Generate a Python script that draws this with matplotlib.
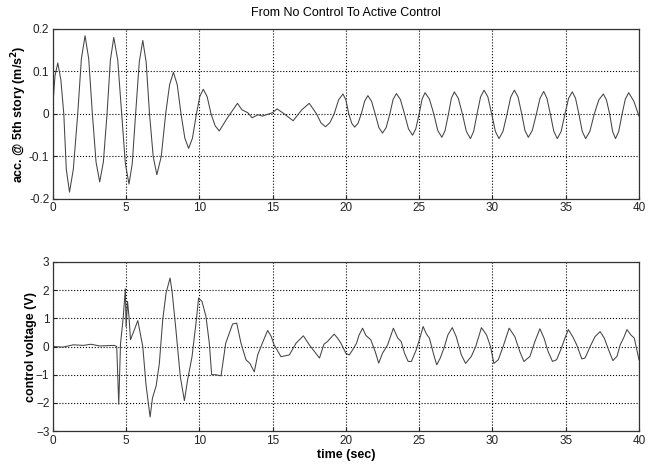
import matplotlib
matplotlib.use("Agg")
import matplotlib.pyplot as plt

plt.rcParams['font.family'] = ['Liberation Sans', 'DejaVu Sans']

# top: acceleration at 5th story
acc_t = [0.0, 0.15, 0.34, 0.55, 0.75, 0.92, 1.14, 1.4, 1.7, 1.95, 2.2, 2.45,
         2.7, 2.95, 3.2, 3.45, 3.7, 3.93, 4.16, 4.43, 4.7, 4.95, 5.2, 5.42,
         5.65, 5.9, 6.14, 6.37, 6.6, 6.85, 7.1, 7.4, 7.7, 7.97, 8.23, 8.49,
         8.75, 9.01, 9.27, 9.53, 9.8, 10.03, 10.27, 10.53, 10.8, 11.08, 11.36,
         11.9, 12.6, 12.9, 13.3, 13.6, 14.0, 14.3, 15.0, 15.3, 15.8, 16.4,
         17.0, 17.5, 18.0, 18.3, 18.6, 18.9, 19.2, 19.5, 19.8, 20.0, 20.2,
         20.4, 20.6, 20.83, 21.05, 21.28, 21.5, 21.75, 22.0, 22.25, 22.5,
         22.75, 23.0, 23.22, 23.45, 23.72, 24.0, 24.27, 24.55, 24.77, 25.0,
         25.2, 25.4, 25.7, 26.0, 26.27, 26.55, 26.77, 27.0, 27.2, 27.4, 27.67,
         27.95, 28.22, 28.5, 28.72, 28.95, 29.19, 29.43, 29.69, 29.95, 30.2,
         30.45, 30.72, 31.0, 31.25, 31.5, 31.75, 32.0, 32.22, 32.45, 32.72,
         33.0, 33.25, 33.5, 33.72, 33.95, 34.19, 34.43, 34.69, 34.95, 35.2,
         35.45, 35.67, 35.9, 36.13, 36.36, 36.65, 36.95, 37.26, 37.57, 37.78,
         38.0, 38.2, 38.4, 38.62, 38.85, 39.07, 39.3, 39.65, 40.0]
acc_y = [0.02, 0.09, 0.12, 0.08, 0.0, -0.13, -0.184, -0.13, 0.0, 0.13, 0.184,
         0.13, 0.0, -0.113, -0.16, -0.113, 0.0, 0.127, 0.18, 0.127, 0.0,
         -0.117, -0.165, -0.117, 0.0, 0.122, 0.173, 0.122, 0.0, -0.1, -0.143,
         -0.1, 0.0, 0.069, 0.098, 0.069, 0.0, -0.057, -0.081, -0.057, 0.0,
         0.041, 0.058, 0.041, 0.0, -0.028, -0.04, -0.01, 0.025, 0.01, 0.003,
         -0.009, -0.002, -0.005, 0.003, 0.012, 0.0, -0.016, 0.01, 0.025, 0.0,
         -0.021, -0.03, -0.021, 0.0, 0.033, 0.047, 0.033, 0.0, -0.022, -0.031,
         -0.022, 0.0, 0.03, 0.043, 0.03, 0.0, -0.032, -0.045, -0.032, 0.0,
         0.034, 0.048, 0.034, 0.0, -0.035, -0.05, -0.035, 0.0, 0.035, 0.05,
         0.035, 0.0, -0.039, -0.055, -0.039, 0.0, 0.037, 0.052, 0.037, 0.0,
         -0.041, -0.058, -0.041, 0.0, 0.04, 0.056, 0.04, 0.0, -0.041, -0.058,
         -0.041, 0.0, 0.04, 0.056, 0.04, 0.0, -0.039, -0.055, -0.039, 0.0,
         0.037, 0.053, 0.037, 0.0, -0.041, -0.058, -0.041, 0.0, 0.037, 0.052,
         0.037, 0.0, -0.041, -0.058, -0.041, 0.0, 0.033, 0.047, 0.033, 0.0,
         -0.041, -0.058, -0.041, 0.0, 0.035, 0.05, 0.03, -0.005]

# bottom: control voltage
volt_t = [0.0, 0.7, 1.4, 2.1, 2.6, 3.2, 4.2, 4.36, 4.5, 4.62, 4.8, 4.95, 5.0,
          5.1, 5.2, 5.3, 5.57, 5.8, 6.14, 6.36, 6.64, 6.8, 7.05, 7.27, 7.5,
          7.73, 8.0, 8.14, 8.4, 8.7, 8.98, 9.2, 9.5, 9.77, 9.95, 10.18, 10.45,
          10.68, 10.84, 11.1, 11.48, 11.8, 12.27, 12.55, 12.84, 13.18, 13.45,
          13.75, 13.98, 14.3, 14.66, 14.9, 15.1, 15.57, 16.14, 16.6, 17.1,
          17.5, 18.2, 18.5, 18.75, 19.2, 19.43, 19.66, 20.0, 20.23, 20.46,
          20.73, 20.9, 21.14, 21.37, 21.7, 22.0, 22.24, 22.5, 22.85, 23.24,
          23.54, 23.77, 24.0, 24.25, 24.47, 24.8, 25.05, 25.27, 25.5, 25.7,
          26.0, 26.2, 26.44, 26.73, 26.96, 27.26, 27.53, 27.88, 28.17, 28.56,
          28.86, 29.25, 29.6, 29.87, 30.1, 30.4, 30.73, 31.14, 31.53, 31.87,
          32.15, 32.56, 32.9, 33.24, 33.52, 33.8, 34.1, 34.38, 34.66, 34.95,
          35.18, 35.48, 35.75, 36.1, 36.32, 36.67, 37.0, 37.35, 37.63, 37.93,
          38.22, 38.5, 38.72, 38.95, 39.18, 39.45, 39.68, 40.0]
volt_y = [0.0, -0.02, 0.06, 0.04, 0.08, 0.02, 0.04, 0.0, -2.05, 0.1, 1.0,
          2.05, 0.7, 1.6, 1.05, 0.24, 0.6, 0.92, 0.0, -1.36, -2.5, -1.83,
          -1.4, -0.6, 0.95, 1.9, 2.43, 1.95, 0.6, -1.07, -1.92, -1.18, -0.36,
          0.83, 1.72, 1.6, 1.07, 0.12, -1.0, -1.0, -1.04, 0.12, 0.8, 0.83,
          0.12, -0.47, -0.6, -0.9, -0.3, 0.12, 0.57, 0.36, 0.06, -0.36, -0.3,
          0.12, 0.38, 0.06, -0.41, 0.08, 0.18, 0.44, 0.3, 0.12, -0.24, -0.3,
          -0.12, 0.12, 0.41, 0.65, 0.39, 0.24, -0.18, -0.59, -0.24, 0.06,
          0.65, 0.3, 0.18, -0.24, -0.53, -0.53, -0.12, 0.3, 0.71, 0.44, 0.3,
          -0.3, -0.65, -0.41, 0.0, 0.41, 0.67, 0.35, -0.3, -0.6, -0.35, 0.0,
          0.67, 0.41, 0.0, -0.6, -0.47, 0.0, 0.65, 0.35, -0.18, -0.53, -0.35,
          0.18, 0.63, 0.3, -0.18, -0.53, -0.47, -0.12, 0.3, 0.6, 0.35, 0.06,
          -0.44, -0.41, 0.0, 0.35, 0.53, 0.3, -0.12, -0.5, -0.35, 0.06, 0.3,
          0.6, 0.41, 0.3, -0.47]

x_ticks = [0, 5, 10, 15, 20, 25, 30, 35, 40]
acc_ticks = [-0.2, -0.1, 0, 0.1, 0.2]
acc_labels = ['-0.2', '-0.1', '0', '0.1', '0.2']
volt_ticks = [-3, -2, -1, 0, 1, 2, 3]

fig = plt.figure(figsize=(6.52, 4.67), dpi=100)
ax1 = fig.add_axes([0.081, 0.574, 0.899, 0.364])
ax2 = fig.add_axes([0.081, 0.077, 0.899, 0.362])

def style(ax):
    ax.set_xlim(0, 40)
    ax.set_xticks(x_ticks)
    ax.grid(True, color='black', linestyle=':', linewidth=0.8)
    ax.tick_params(direction='in', length=3, pad=2.5, labelsize=8.5, colors='#222222')
    for s in ax.spines.values():
        s.set_color('#333333')
        s.set_linewidth(0.9)

ax1.plot(acc_t, acc_y, color='#444444', linewidth=0.75)
style(ax1)
ax1.set_ylim(-0.2, 0.2)
ax1.set_yticks(acc_ticks)
ax1.set_yticklabels(acc_labels)
ax1.set_ylabel(r'acc. @ 5th story (m/s$^{\mathbf{2}}$)', fontsize=9, fontweight='bold', labelpad=0)
ax1.set_title('From No Control To Active Control', fontsize=9, pad=9)

ax2.plot(volt_t, volt_y, color='#444444', linewidth=0.75)
style(ax2)
ax2.set_ylim(-3, 3)
ax2.set_yticks(volt_ticks)
ax2.set_ylabel('control voltage (V)', fontsize=9, fontweight='bold', labelpad=-1)
ax2.set_xlabel('time (sec)', fontsize=9, fontweight='bold', labelpad=2)

fig.savefig('out.png', dpi=100)
